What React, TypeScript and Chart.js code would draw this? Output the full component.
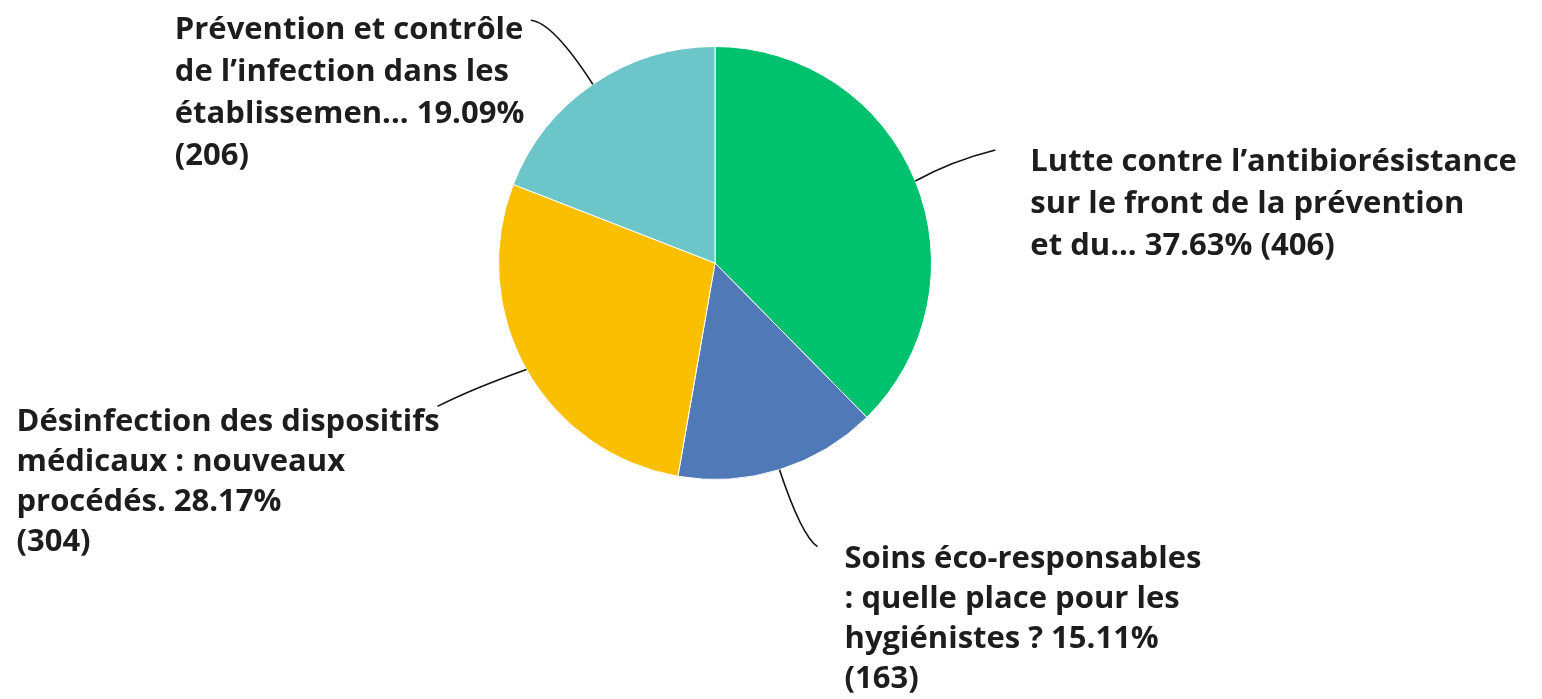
import React, { useEffect, useRef } from "react";
import { Chart, registerables } from "chart.js";

Chart.register(...registerables);

// ---- data ----
const categories = [
  "Lutte contre l’antibiorésistance sur le front de la prévention et du...",
  "Soins éco-responsables : quelle place pour les hygiénistes ?",
  "Désinfection des dispositifs médicaux : nouveaux procédés.",
  "Prévention et contrôle de l’infection dans les établissemen...",
];
const counts = [406, 163, 304, 206];
const percents = [37.63, 15.11, 28.17, 19.09];
const labelNameLines = [
  ["Lutte contre l’antibiorésistance", "sur le front de la prévention", "et du..."],
  ["Soins éco-responsables", ": quelle place pour les", "hygiénistes ?"],
  ["Désinfection des dispositifs", "médicaux : nouveaux", "procédés."],
  ["Prévention et contrôle", "de l’infection dans les", "établissemen..."],
];

// ---- styles / layout ----
const colors = ["#00C16E", "#4F79B7", "#F9BF00", "#6CC5C9"];
const FONT = "700 31px 'Open Sans', sans-serif";
const TEXT_COLOR = "#1d1d1d";
// offsets relative to slice's outer mid point: leader end, curve control, text anchor (relative to leader end)
const placements = [
  { leader: [80, -31], ctrl: [36, -20], text: [35, 21], lineHeight: 42, countNewLine: false },
  { leader: [38, 77], ctrl: [22, 66], text: [27, 21], lineHeight: 40, countNewLine: true },
  { leader: [-89, 37], ctrl: [-56, 20], text: [-421, 25], lineHeight: 40, countNewLine: true },
  { leader: [-62, -64], ctrl: [-40, -62], text: [-356, 19], lineHeight: 42, countNewLine: true },
];

function buildLines(i: number): string[] {
  const lines = labelNameLines[i].slice();
  const pct = percents[i].toFixed(2) + "%";
  const cnt = "(" + counts[i] + ")";
  const last = lines.length - 1;
  if (placements[i].countNewLine) {
    lines[last] = lines[last] + " " + pct;
    lines.push(cnt);
  } else {
    lines[last] = lines[last] + " " + pct + " " + cnt;
  }
  return lines;
}

const leaderLabelPlugin = {
  id: "leaderLabels",
  afterDatasetsDraw(chart: any) {
    const ctx = chart.ctx as CanvasRenderingContext2D;
    const meta = chart.getDatasetMeta(0);
    meta.data.forEach((arc: any, i: number) => {
      const p = arc.getProps(["x", "y", "startAngle", "endAngle", "outerRadius"], true);
      const mid = (p.startAngle + p.endAngle) / 2;
      const sx = p.x + Math.cos(mid) * p.outerRadius;
      const sy = p.y + Math.sin(mid) * p.outerRadius;
      const pl = placements[i];
      const ex = sx + pl.leader[0];
      const ey = sy + pl.leader[1];
      ctx.save();
      ctx.beginPath();
      ctx.moveTo(sx, sy);
      ctx.quadraticCurveTo(sx + pl.ctrl[0], sy + pl.ctrl[1], ex, ey);
      ctx.strokeStyle = "#111";
      ctx.lineWidth = 1.6;
      ctx.stroke();
      ctx.font = FONT;
      ctx.fillStyle = TEXT_COLOR;
      ctx.textAlign = "left";
      ctx.textBaseline = "alphabetic";
      buildLines(i).forEach((t, k) => {
        ctx.fillText(t, ex + pl.text[0], ey + pl.text[1] + k * pl.lineHeight);
      });
      ctx.restore();
    });
  },
};

export default function App() {
  const canvasRef = useRef<HTMLCanvasElement | null>(null);
  useEffect(() => {
    if (!canvasRef.current) return;
    const chart = new Chart(canvasRef.current, {
      type: "pie",
      data: {
        labels: categories,
        datasets: [
          {
            data: percents,
            backgroundColor: colors,
            borderColor: "#ffffff",
            borderWidth: 1,
          },
        ],
      },
      options: {
        animation: false,
        responsive: true,
        maintainAspectRatio: false,
        layout: { padding: { left: 498, right: 610, top: 46, bottom: 219 } },
        plugins: {
          legend: { display: false },
          tooltip: { enabled: false },
        },
      },
      plugins: [leaderLabelPlugin],
    });
    return () => chart.destroy();
  }, []);
  return (
    <div style={{ position: "fixed", left: 0, top: 0, width: 1542, height: 699, background: "#fff" }}>
      <canvas ref={canvasRef} />
    </div>
  );
}
